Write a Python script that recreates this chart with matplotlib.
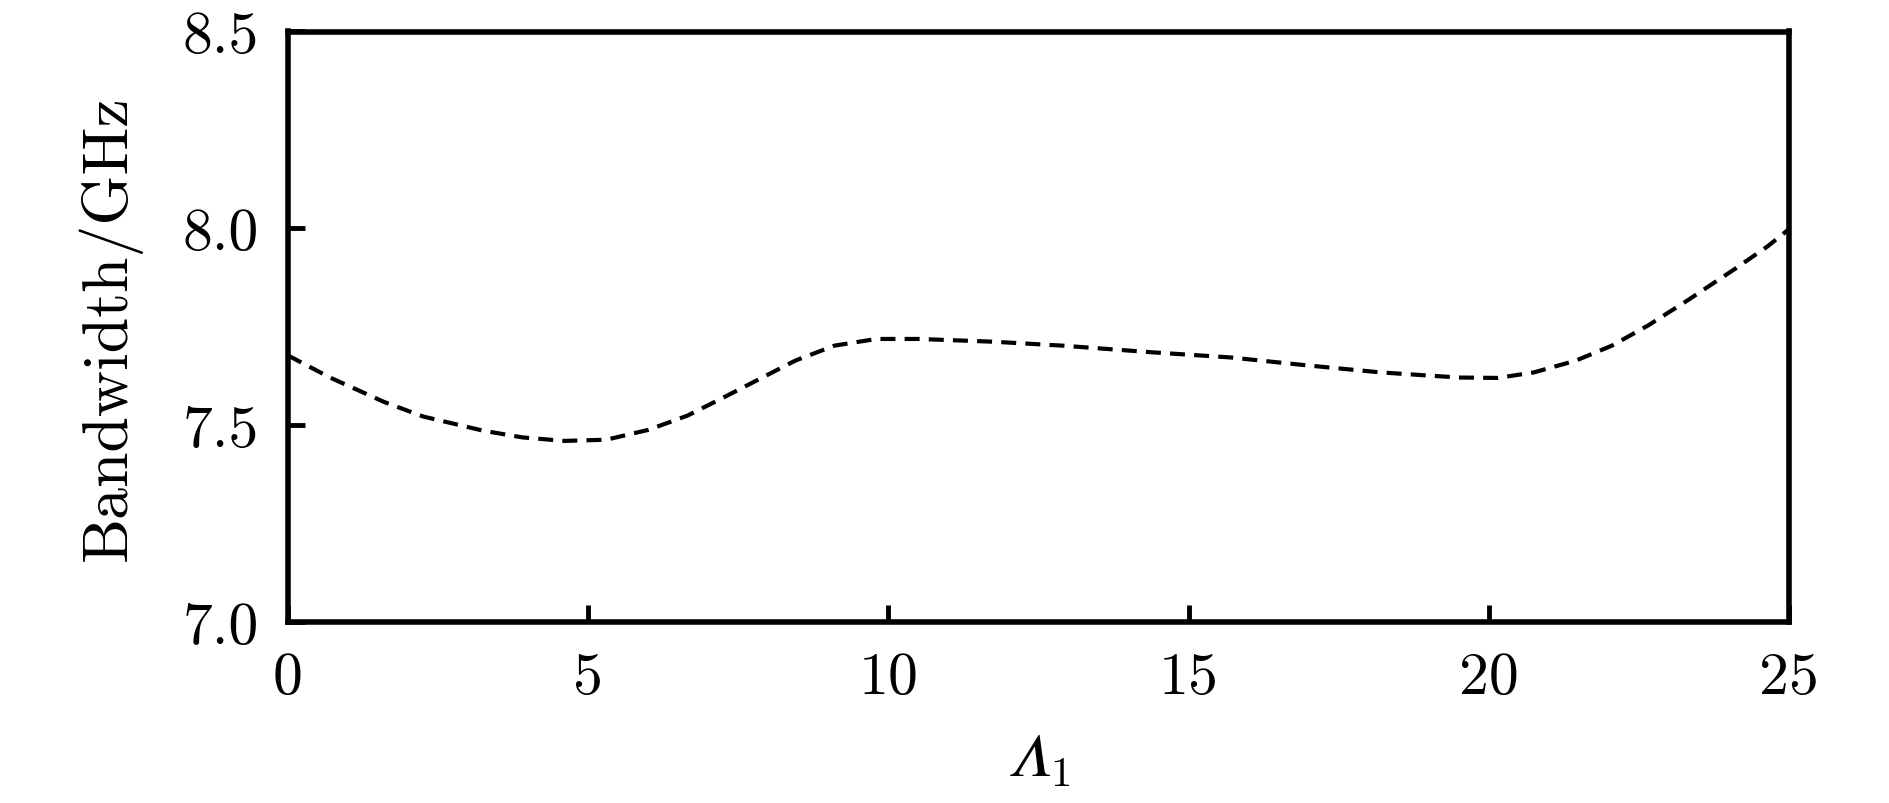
import matplotlib
matplotlib.use('Agg')
import matplotlib.pyplot as plt

# Values
lam1 = [0.0, 0.7, 1.6, 2.25, 3.25, 3.9, 4.6, 5.3, 6.0, 6.65, 7.25, 7.85, 8.45, 9.1, 9.8,
        10.5, 11.75, 12.9, 14.4, 15.7, 16.9, 18.2, 19.5, 20.15, 20.75, 21.45, 22.05,
        22.65, 23.3, 24.1, 24.65, 25.0]
bandwidth = [7.677, 7.621, 7.559, 7.522, 7.486, 7.469, 7.460, 7.463, 7.488, 7.524, 7.570,
             7.617, 7.664, 7.702, 7.719, 7.719, 7.712, 7.702, 7.685, 7.672, 7.653, 7.634,
             7.621, 7.620, 7.634, 7.664, 7.702, 7.753, 7.816, 7.897, 7.955, 7.998]

xticks = [0, 5, 10, 15, 20, 25]
yticks = [7.0, 7.5, 8.0, 8.5]
ytick_labels = ['7.0', '7.5', '8.0', '8.5']

plt.rcParams['font.family'] = 'serif'
plt.rcParams['font.serif'] = ['cmr10']
plt.rcParams['mathtext.fontset'] = 'cm'

fig = plt.figure(figsize=(18.9, 8.04), dpi=100)
ax = fig.add_axes([288 / 1890, 1 - 623 / 804, (1789 - 288) / 1890, (623 - 32.5) / 804])

ax.plot(lam1, bandwidth, color='black', linestyle=(0, (3.6, 2.2)), linewidth=3.0)

ax.set_xlim(0, 25)
ax.set_ylim(7.0, 8.5)
ax.set_xticks(xticks)
ax.set_yticks(yticks)
ax.set_yticklabels(ytick_labels)
ax.tick_params(direction='in', length=12, width=3.5, labelsize=43, pad=21,
               top=False, right=False)
for sp in ax.spines.values():
    sp.set_linewidth(4)

# italic capital Lambda (falls back to STIX glyph)
ax.set_xlabel('$\U0001D6EC_1$', fontsize=44, labelpad=20)
ax.set_ylabel('Bandwidth/GHz', fontsize=46, labelpad=29)

fig.savefig('out.png', dpi=100)
